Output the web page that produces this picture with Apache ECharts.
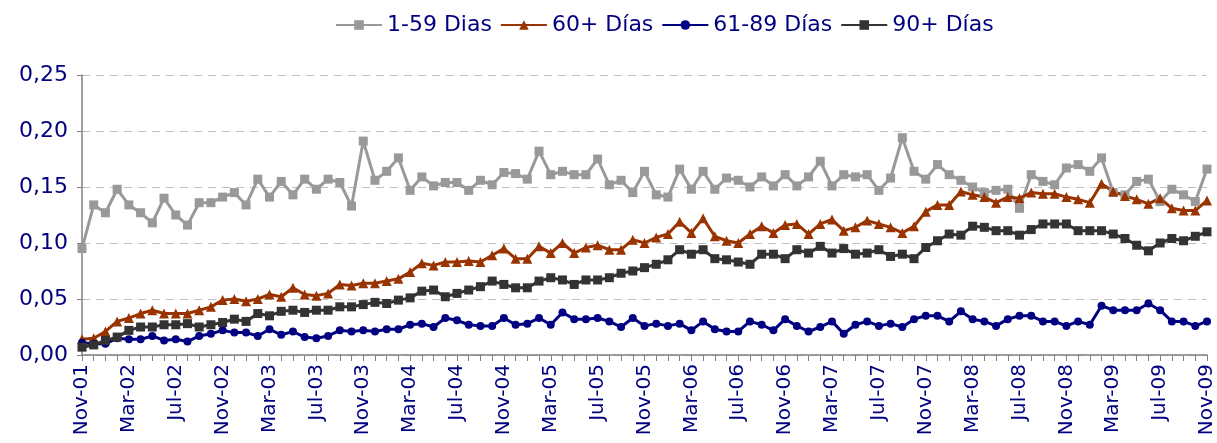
<!DOCTYPE html>
<html>
<head>
<meta charset="utf-8">
<script src="https://cdn.jsdelivr.net/npm/echarts@6/dist/echarts.min.js"></script>
<style>
  html, body { margin: 0; padding: 0; background: #fff; }
  #chart { width: 1217px; height: 443px; }
</style>
</head>
<body>
<div id="chart"></div>
<script>
// meses nov-2001 .. nov-2009
var meses = ["Ene", "Feb", "Mar", "Abr", "May", "Jun", "Jul", "Ago", "Sep", "Oct", "Nov", "Dic"];
var categorias = [];
for (var k = 0; k < 97; k++) {
  var m = (10 + k) % 12;
  var a = 1 + Math.floor((10 + k) / 12);
  categorias.push(meses[m] + "-" + (a < 10 ? "0" + a : a));
}

var dias1_59 = [
  0.095, 0.134, 0.127, 0.148, 0.134, 0.127, 0.118, 0.140, 0.125, 0.116,
  0.136, 0.136, 0.141, 0.145, 0.134, 0.157, 0.141, 0.155, 0.143, 0.157,
  0.148, 0.157, 0.154, 0.133, 0.191, 0.156, 0.164, 0.176, 0.147, 0.159,
  0.151, 0.154, 0.154, 0.147, 0.156, 0.152, 0.163, 0.162, 0.157, 0.182,
  0.161, 0.164, 0.161, 0.161, 0.175, 0.152, 0.156, 0.145, 0.164, 0.143,
  0.141, 0.166, 0.148, 0.164, 0.148, 0.158, 0.156, 0.150, 0.159, 0.151,
  0.161, 0.151, 0.159, 0.173, 0.151, 0.161, 0.159, 0.161, 0.147, 0.158,
  0.194, 0.164, 0.157, 0.170, 0.161, 0.156, 0.150, 0.145, 0.147, 0.148,
  0.131, 0.161, 0.155, 0.152, 0.167, 0.170, 0.164, 0.176, 0.145, 0.143,
  0.155, 0.157, 0.137, 0.148, 0.143, 0.137, 0.166
];
var dias60 = [
  0.014, 0.015, 0.021, 0.030, 0.033, 0.037, 0.040, 0.037, 0.037, 0.037,
  0.040, 0.043, 0.049, 0.050, 0.048, 0.050, 0.054, 0.052, 0.060, 0.054,
  0.053, 0.055, 0.063, 0.062, 0.064, 0.064, 0.066, 0.068, 0.074, 0.082,
  0.080, 0.083, 0.083, 0.084, 0.083, 0.089, 0.095, 0.086, 0.086, 0.097,
  0.091, 0.100, 0.091, 0.096, 0.098, 0.094, 0.094, 0.103, 0.100, 0.105,
  0.108, 0.119, 0.109, 0.122, 0.106, 0.102, 0.100, 0.108, 0.115, 0.109,
  0.116, 0.117, 0.108, 0.117, 0.121, 0.111, 0.114, 0.120, 0.117, 0.114,
  0.109, 0.115, 0.128, 0.134, 0.134, 0.146, 0.143, 0.141, 0.136, 0.141,
  0.140, 0.145, 0.144, 0.144, 0.141, 0.139, 0.136, 0.153, 0.146, 0.142,
  0.139, 0.135, 0.140, 0.131, 0.129, 0.129, 0.138
];
var dias61_89 = [
  0.011, 0.010, 0.010, 0.015, 0.014, 0.014, 0.017, 0.013, 0.014, 0.012,
  0.017, 0.019, 0.022, 0.020, 0.020, 0.017, 0.023, 0.018, 0.021, 0.016,
  0.015, 0.017, 0.022, 0.021, 0.022, 0.021, 0.023, 0.023, 0.027, 0.028,
  0.025, 0.033, 0.031, 0.027, 0.026, 0.026, 0.033, 0.027, 0.028, 0.033,
  0.027, 0.038, 0.032, 0.032, 0.033, 0.030, 0.025, 0.033, 0.026, 0.028,
  0.026, 0.028, 0.022, 0.030, 0.023, 0.021, 0.021, 0.030, 0.027, 0.022,
  0.032, 0.026, 0.021, 0.025, 0.030, 0.019, 0.027, 0.030, 0.026, 0.028,
  0.025, 0.032, 0.035, 0.035, 0.030, 0.039, 0.032, 0.030, 0.026, 0.032,
  0.035, 0.035, 0.030, 0.030, 0.026, 0.030, 0.027, 0.044, 0.040, 0.040,
  0.040, 0.046, 0.040, 0.030, 0.030, 0.026, 0.030
];
var dias90 = [
  0.007, 0.009, 0.013, 0.016, 0.022, 0.025, 0.025, 0.027, 0.027, 0.028,
  0.025, 0.027, 0.029, 0.032, 0.030, 0.037, 0.035, 0.039, 0.040, 0.038,
  0.040, 0.040, 0.043, 0.043, 0.045, 0.047, 0.046, 0.049, 0.051, 0.057,
  0.058, 0.052, 0.055, 0.058, 0.061, 0.066, 0.063, 0.060, 0.060, 0.066,
  0.069, 0.067, 0.063, 0.067, 0.067, 0.069, 0.073, 0.075, 0.078, 0.081,
  0.085, 0.094, 0.090, 0.094, 0.086, 0.085, 0.083, 0.081, 0.090, 0.090,
  0.086, 0.094, 0.091, 0.097, 0.091, 0.095, 0.090, 0.091, 0.094, 0.088,
  0.090, 0.086, 0.096, 0.102, 0.108, 0.107, 0.115, 0.114, 0.111, 0.111,
  0.107, 0.112, 0.117, 0.117, 0.117, 0.111, 0.111, 0.111, 0.108, 0.104,
  0.098, 0.093, 0.100, 0.104, 0.102, 0.106, 0.110
];

var azul = "#000080";
var myChart = echarts.init(document.getElementById("chart"));

function serie(nombre, datos, color, simbolo, tam) {
  return {
    name: nombre,
    type: "line",
    data: datos,
    symbol: simbolo,
    symbolSize: tam,
    showAllSymbol: true,
    animation: false,
    lineStyle: { color: color, width: 3 },
    itemStyle: { color: color }
  };
}

var option = {
  animation: false,
  legend: {
    top: 9,
    left: 330,
    itemWidth: 46,
    itemHeight: 12,
    itemGap: 8,
    textStyle: { color: azul, fontSize: 22, fontFamily: "DejaVu Sans" },
    data: ["1-59 Dias", "60+ Días", "61-89 Días", "90+ Días"]
  },
  grid: { left: 82, right: 4, top: 75, bottom: 88, containLabel: false },
  xAxis: {
    type: "category",
    data: categorias,
    boundaryGap: false,
    axisLine: { lineStyle: { color: "#808080", width: 1.5 } },
    axisTick: { show: true, interval: 0, length: 6, lineStyle: { color: "#808080" } },
    axisLabel: {
      interval: 3,
      rotate: 90,
      margin: 9,
      color: azul,
      fontSize: 20,
      fontFamily: "DejaVu Sans"
    },
    splitLine: { show: false }
  },
  yAxis: {
    type: "value",
    min: 0,
    max: 0.25,
    interval: 0.05,
    axisLine: { show: true, lineStyle: { color: "#808080", width: 1.5 } },
    axisTick: { show: true, length: 5, lineStyle: { color: "#808080" } },
    axisLabel: {
      color: azul,
      fontSize: 22,
      fontFamily: "DejaVu Sans",
      margin: 14,
      formatter: function (v) { return v.toFixed(2).replace(".", ","); }
    },
    splitLine: { show: true, lineStyle: { color: "#bfbfbf", type: [8, 6], width: 1 } }
  },
  series: [
    serie("1-59 Dias", dias1_59, "#999999", "rect", 9),
    serie("60+ Días", dias60, "#993300", "triangle", 10),
    serie("61-89 Días", dias61_89, azul, "circle", 8),
    serie("90+ Días", dias90, "#333333", "rect", 9)
  ]
};
myChart.setOption(option);
</script>
</body>
</html>
